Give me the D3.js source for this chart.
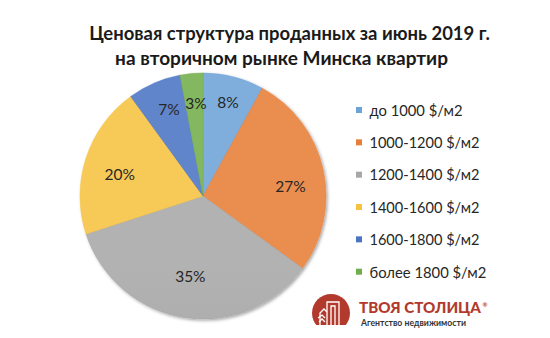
<!DOCTYPE html>
<html>
<head>
<meta charset="utf-8">
<script src="https://cdn.jsdelivr.net/npm/d3@7"></script>
<style>
  html, body { margin: 0; padding: 0; background: #ffffff; }
  svg { display: block; }
</style>
</head>
<body>
<svg id="chart" width="550" height="338"></svg>
<script>
// Price bands and their share of apartments sold (%)
const categories = ["до 1000 $/м2", "1000-1200 $/м2", "1200-1400 $/м2", "1400-1600 $/м2", "1600-1800 $/м2", "более 1800 $/м2"];
const shares = [8, 27, 35, 20, 7, 3];
const colors = ["#6ea3d8", "#e77f38", "#a7a7a7", "#f6c23f", "#4a74c4", "#72ad4c"];
const titleLines = ["Ценовая структура проданных за июнь 2019 г.", "на вторичном рынке Минска квартир"];
const brandName = "ТВОЯ СТОЛИЦА";
const brandTagline = "Агентство недвижимости";

const svg = d3.select("#chart");
const font = "Lato, 'Open Sans', sans-serif";

// Shrink or grow a text node's font so its width matches the target
function fitWidth(sel, target) {
  const node = sel.node();
  const fs = parseFloat(sel.attr("font-size"));
  const w = node.getComputedTextLength();
  sel.attr("font-size", (fs * target / w).toFixed(2));
}

// Title
const titleSpecs = [{ y: 40, w: 401, cx: 289.5 }, { y: 65, w: 333, cx: 281.5 }];
titleLines.forEach((t, i) => {
  const s = svg.append("text")
    .attr("x", titleSpecs[i].cx).attr("y", titleSpecs[i].y)
    .attr("text-anchor", "middle")
    .attr("font-family", font).attr("font-weight", 700)
    .attr("font-size", 18).attr("fill", "#1a1a1a")
    .text(t);
  fitWidth(s, titleSpecs[i].w);
});

// Pie
const cx = 203, cy = 196, R = 123;
const defs = svg.append("defs");
const shadow = defs.append("filter").attr("id", "pieShadow")
  .attr("x", "-10%").attr("y", "-10%").attr("width", "120%").attr("height", "120%");
shadow.append("feDropShadow").attr("dx", 1.5).attr("dy", 1.5)
  .attr("stdDeviation", 1.6).attr("flood-color", "#000").attr("flood-opacity", 0.35);

// Soft vertical shading on each slice (lighter towards the top)
colors.forEach((c, i) => {
  const g = defs.append("linearGradient").attr("id", "grad" + i)
    .attr("gradientUnits", "userSpaceOnUse")
    .attr("x1", 0).attr("y1", cy - R).attr("x2", 0).attr("y2", cy + R);
  g.append("stop").attr("offset", "0%").attr("stop-color", d3.interpolateRgb(c, "#ffffff")(0.12));
  g.append("stop").attr("offset", "100%").attr("stop-color", d3.interpolateRgb(c, "#000000")(0.04));
});

const pie = d3.pie().sort(null).value(d => d.v);
const arcs = pie(shares.map((v, i) => ({ v, i })));
const arc = d3.arc().innerRadius(0).outerRadius(R);

const pieG = svg.append("g").attr("transform", `translate(${cx},${cy})`);
pieG.append("g").attr("filter", "url(#pieShadow)")
  .selectAll("path").data(arcs).join("path")
  .attr("d", arc)
  .attr("fill", d => `url(#grad${d.data.i})`)
  .attr("stroke", d => colors[d.data.i])
  .attr("stroke-width", 0.5);

// Data labels placed along each slice's mid-angle
const labelRadius = [97, 88, 81, 86, 93, 93];
const labelAngleShift = [0.5, 6, 0, -3.5, 2, 1];
pieG.selectAll("text.lbl").data(arcs).join("text")
  .attr("class", "lbl")
  .each(function (d) {
    const a = (d.startAngle + d.endAngle) / 2 + labelAngleShift[d.data.i] * Math.PI / 180;
    const r = labelRadius[d.data.i];
    d3.select(this)
      .attr("x", r * Math.sin(a))
      .attr("y", -r * Math.cos(a));
  })
  .attr("text-anchor", "middle").attr("dominant-baseline", "central")
  .attr("font-family", font).attr("font-size", 15.5).attr("fill", "#262626")
  .text(d => d.data.v + "%");

// Legend
const legend = svg.append("g");
const legY = d3.scalePoint().domain(categories).range([110, 271.7]);
const legWidths = [93, 110, 110, 110, 110, 117];
categories.forEach((c, i) => {
  const y = legY(c);
  legend.append("rect").attr("x", 356).attr("y", y - 3).attr("width", 6).attr("height", 6)
    .attr("fill", colors[i]);
  const t = legend.append("text").attr("x", 369.5).attr("y", y)
    .attr("dominant-baseline", "central")
    .attr("font-family", font).attr("font-size", 14.5).attr("fill", "#262626")
    .text(c);
  fitWidth(t, legWidths[i]);
});

// Agency badge: red dome with a white building outline
const logo = svg.append("g");
defs.append("clipPath").attr("id", "domeClip")
  .append("rect").attr("x", 300).attr("y", 280).attr("width", 60).attr("height", 45);
logo.append("circle").attr("cx", 331).attr("cy", 313).attr("r", 19)
  .attr("fill", "#b23a2d").attr("clip-path", "url(#domeClip)");
const bld = logo.append("g").attr("fill", "none").attr("stroke", "#ffffff").attr("stroke-width", 1.3);
bld.append("path").attr("d", "M327,325 V302 H339 V325");
bld.append("path").attr("d", "M331,325 V306 H335 V325");
bld.append("path").attr("d", "M320,325 V313 L324,309 L327,312");
bld.append("path").attr("d", "M318,318 L322,315 L325,318 M319,322 L322,319 L325,322");

const brand = logo.append("text").attr("x", 359).attr("y", 313)
  .attr("font-family", font).attr("font-weight", 900).attr("font-size", 13)
  .attr("fill", "#b23a2d").text(brandName);
fitWidth(brand, 122);
logo.append("text").attr("x", 482.5).attr("y", 307)
  .attr("font-family", font).attr("font-weight", 700).attr("font-size", 6)
  .attr("fill", "#b23a2d").text("®");
const tag = logo.append("text").attr("x", 361).attr("y", 326)
  .attr("font-family", font).attr("font-weight", 700).attr("font-size", 8.5)
  .attr("fill", "#333333").text(brandTagline);
fitWidth(tag, 105);
</script>
</body>
</html>
